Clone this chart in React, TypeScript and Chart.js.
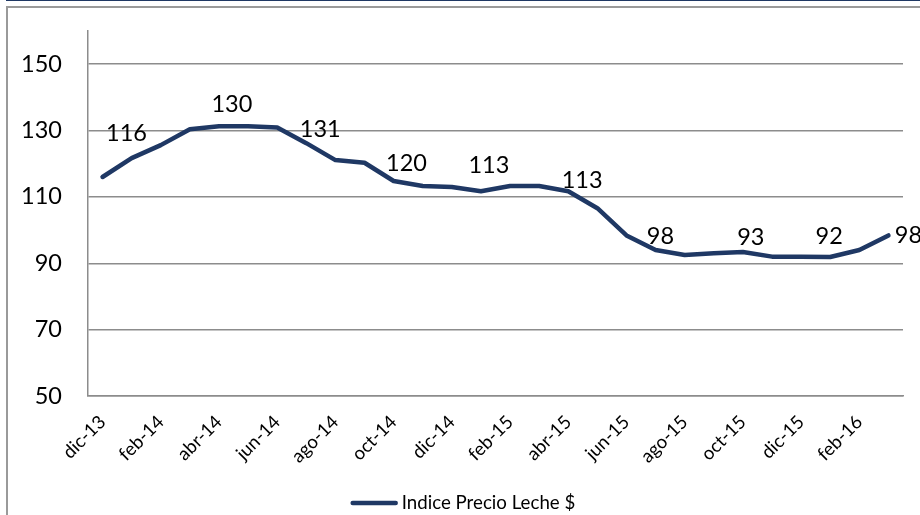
import React, { useEffect, useRef } from "react";
import { Chart, registerables } from "chart.js";

Chart.register(...registerables);

const categories = [
  "dic-13", "ene-14", "feb-14", "mar-14", "abr-14", "may-14", "jun-14", "jul-14",
  "ago-14", "sep-14", "oct-14", "nov-14", "dic-14", "ene-15", "feb-15", "mar-15",
  "abr-15", "may-15", "jun-15", "jul-15", "ago-15", "sep-15", "oct-15", "nov-15",
  "dic-15", "ene-16", "feb-16", "mar-16",
];

const indiceValues = [
  116.0, 121.7, 125.6, 130.4, 131.3, 131.3, 130.9, 126.2,
  121.1, 120.3, 114.8, 113.3, 113.0, 111.7, 113.3, 113.3,
  111.7, 106.6, 98.4, 94.0, 92.5, 93.0, 93.4, 92.0,
  92.0, 91.9, 94.0, 98.4,
];

const seriesName = "Indice Precio Leche $";
const yTickValues = [50, 70, 90, 110, 130, 150];
const yMin = 50;
const yMax = 160;
const labeledIndices = [0, 3, 6, 9, 12, 15, 18, 21, 24, 27];

// label placement (style) relative to its point: [dx, dy]
const labelShift = [
  [24, -44], [42, -25], [43, 2], [42, 1], [37, -22],
  [43, -6], [34, 1], [37, -16], [28, -20], [20, 0],
];

const NAVY = "#1F3864";
const GRID = "#8c8c8c";
const FONT = "Lato";
const VALUE_SIZE = 23.5;

Chart.defaults.font.family = FONT;
Chart.defaults.font.size = VALUE_SIZE;
Chart.defaults.color = "#000";

const dataLabelPlugin = {
  id: "dataLabels",
  afterDatasetsDraw(chart: any) {
    const meta = chart.getDatasetMeta(0);
    const ctx = chart.ctx;
    ctx.save();
    ctx.font = `${VALUE_SIZE}px ${FONT}`;
    ctx.fillStyle = "#000";
    ctx.textAlign = "center";
    ctx.textBaseline = "middle";
    labeledIndices.forEach((idx, k) => {
      const p = meta.data[idx];
      if (!p) return;
      const v = chart.data.datasets[0].data[idx];
      ctx.fillText(String(Math.round(v)), p.x + labelShift[k][0], p.y + labelShift[k][1]);
    });
    ctx.restore();
  },
};

const legendPlugin = {
  id: "customLegend",
  afterDraw(chart: any) {
    const ctx = chart.ctx;
    const ds = chart.data.datasets[0];
    ctx.save();
    ctx.font = `18.7px ${FONT}`;
    const tw = ctx.measureText(ds.label).width;
    const lineLen = 47;
    const gap = 4;
    const total = lineLen + gap + tw;
    const x0 = chart.width / 2 - total / 2 + 3;
    const y = 503;
    ctx.strokeStyle = ds.borderColor;
    ctx.lineWidth = ds.borderWidth;
    ctx.lineCap = "round";
    ctx.beginPath();
    ctx.moveTo(x0 + 2, y);
    ctx.lineTo(x0 + lineLen - 2, y);
    ctx.stroke();
    ctx.fillStyle = "#000";
    ctx.textAlign = "left";
    ctx.textBaseline = "middle";
    ctx.fillText(ds.label, x0 + lineLen + gap, y);
    ctx.restore();
  },
};

export default function App() {
  const canvasRef = useRef<HTMLCanvasElement | null>(null);

  useEffect(() => {
    if (!canvasRef.current) return;
    const chart = new Chart(canvasRef.current, {
      type: "line",
      data: {
        labels: categories,
        datasets: [
          {
            label: seriesName,
            data: indiceValues,
            borderColor: NAVY,
            backgroundColor: NAVY,
            borderWidth: 4.5,
            pointRadius: 0,
            tension: 0,
            borderJoinStyle: "round",
            borderCapStyle: "round",
          },
        ],
      },
      options: {
        animation: false,
        responsive: false,
        layout: { padding: { top: 31, right: 17, bottom: 0, left: 0 } },
        plugins: {
          legend: { display: false },
          tooltip: { enabled: false },
        },
        scales: {
          x: {
            offset: true,
            grid: { display: false, drawTicks: false },
            border: { display: true, color: GRID, width: 1.5 },
            ticks: {
              autoSkip: false,
              minRotation: 45,
              maxRotation: 45,
              padding: 15,
              color: "#000",
              font: { family: FONT, size: 18.5 },
              callback: (_v: any, i: number) => (i % 2 === 0 ? categories[i] : ""),
            },
            afterFit: (scale: any) => {
              scale.height = 515 - 396;
            },
          },
          y: {
            min: yMin,
            max: yMax,
            grid: { color: GRID, lineWidth: 1.5, drawTicks: false },
            border: { display: true, color: GRID, width: 1.5 },
            afterBuildTicks: (scale: any) => {
              scale.ticks = yTickValues.map((v) => ({ value: v }));
            },
            ticks: {
              padding: 26,
              color: "#000",
              font: { family: FONT, size: VALUE_SIZE },
            },
            afterFit: (scale: any) => {
              scale.width = 88;
              scale.paddingTop = 0;
              scale.paddingBottom = 0;
            },
          },
        },
      },
      plugins: [dataLabelPlugin, legendPlugin],
    });
    return () => chart.destroy();
  }, []);

  return (
    <div style={{ position: "fixed", left: 0, top: 0, width: 920, height: 515, background: "#fff", overflow: "hidden" }}>
      <div style={{ position: "absolute", left: 6, top: 0, right: 0, height: 1, background: NAVY }} />
      <div
        style={{
          position: "absolute",
          left: 6,
          top: 6,
          right: -10,
          bottom: -10,
          borderLeft: "2px solid #9a9a9a",
          borderTop: "2px solid #9a9a9a",
        }}
      />
      <canvas ref={canvasRef} width={920} height={515} style={{ position: "absolute", left: 0, top: 0 }} />
    </div>
  );
}
